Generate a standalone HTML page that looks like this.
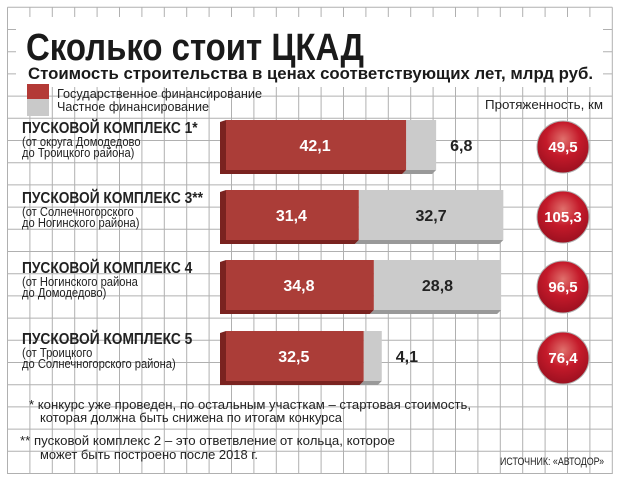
<!DOCTYPE html>
<html><head><meta charset="utf-8"><style>
body{margin:0;background:#fff;}
svg text{font-family:"Liberation Sans",sans-serif;}
</style></head><body>
<svg width="620" height="484" viewBox="0 0 620 484">
<defs>
<radialGradient id="ball" cx="50%" cy="35%" r="65%">
<stop offset="0" stop-color="#e0706c"/><stop offset="0.5" stop-color="#c41a2a"/><stop offset="1" stop-color="#9c1020"/>
</radialGradient>
</defs>
<g id="grid"></g>
<rect x="16" y="17" width="587" height="70" fill="#fff"/>
<text x="26" y="60" font-size="38" font-weight="bold" fill="#1a1a1a" textLength="338" lengthAdjust="spacingAndGlyphs">Сколько стоит ЦКАД</text>
<text x="28" y="79" font-size="17" font-weight="bold" fill="#1a1a1a" textLength="565" lengthAdjust="spacingAndGlyphs">Стоимость строительства в ценах соответствующих лет, млрд руб.</text>
<g>
<rect x="27" y="84" width="22" height="15" fill="#b33a36"/>
<rect x="27" y="99" width="22" height="17" fill="#c9c9c9"/>
<text x="57" y="98" font-size="13" fill="#222" textLength="205" lengthAdjust="spacingAndGlyphs">Государственное финансирование</text>
<text x="57" y="111" font-size="13" fill="#222" textLength="152" lengthAdjust="spacingAndGlyphs">Частное финансирование</text>
</g>
<text x="603" y="109" font-size="13" fill="#222" text-anchor="end" textLength="118" lengthAdjust="spacingAndGlyphs">Протяженность, км</text>
<g id="rows"></g>
<g font-size="13" fill="#222">
<text x="29" y="409" textLength="442" lengthAdjust="spacingAndGlyphs">* конкурс уже проведен, по остальным участкам – стартовая стоимость,</text>
<text x="40" y="422" textLength="302" lengthAdjust="spacingAndGlyphs">которая должна быть снижена по итогам конкурса</text>
<text x="20" y="445" textLength="375" lengthAdjust="spacingAndGlyphs">** пусковой комплекс 2 – это ответвление от кольца, которое</text>
<text x="40" y="459" textLength="218" lengthAdjust="spacingAndGlyphs">может быть построено после 2018 г.</text>
<text x="604" y="465" font-size="11" text-anchor="end" textLength="104" lengthAdjust="spacingAndGlyphs">ИСТОЧНИК: «АВТОДОР»</text>
</g>
</svg>
<script>
const categories=["ПУСКОВОЙ КОМПЛЕКС 1*","ПУСКОВОЙ КОМПЛЕКС 3**","ПУСКОВОЙ КОМПЛЕКС 4","ПУСКОВОЙ КОМПЛЕКС 5"];
const subLine1=["(от округа Домодедово","(от Солнечногорского","(от Ногинского района","(от Троицкого"];
const subLine2=["до Троицкого района)","до Ногинского района)","до Домодедово)","до Солнечногорского района)"];
const stateValues=[42.1,31.4,34.8,32.5];
const privateValues=[6.8,32.7,28.8,4.1];
const lengthValues=[49.5,105.3,96.5,76.4];
const NS="http://www.w3.org/2000/svg";
function mk(tag,attrs,parent){const e=document.createElementNS(NS,tag);for(const k in attrs)e.setAttribute(k,attrs[k]);parent.appendChild(e);return e;}
const grid=document.getElementById('grid');
for(let i=0;i<=27;i++){const x=7.5+i*22.4;const l=mk('line',{x1:x,y1:7.3,x2:x,y2:474,stroke:'#b0b0b0','stroke-width':1},grid);}
for(let j=0;j<=21;j++){const y=7.3+j*22.2;const l=mk('line',{x1:7.5,y1:y,x2:612.3,y2:y,stroke:'#b0b0b0','stroke-width':1},grid);}
const x0=220,k=4.42;
const xs=v=>x0+v*k;
const rowY=[120,190,260,331];
const fmt=v=>v.toFixed(1).replace('.',',');
const rows=document.getElementById('rows');
const sx=0.86;
categories.forEach((c,i)=>{
 const g=mk('g',{},rows);
 
 
 const y=rowY[i],h=50;
 const xr=xs(stateValues[i]),xg=xs(stateValues[i]+privateValues[i]);
 const sh=mk('polygon',{points:`${xr},${y+h} ${xg},${y+h} ${xg-4},${y+h+4} ${xr-4},${y+h+4}`,fill:'#999'},g);
 
 const gb=mk('rect',{x:xr,y:y,width:xg-xr,height:h,fill:'#cbcbcb'},g);
 
 const rs=mk('polygon',{points:`${x0},${y+2} ${x0+6},${y} ${x0+6},${y+h} ${xr},${y+h} ${xr-4},${y+h+4} ${x0},${y+h+4}`,fill:'#7a2320'},g);
 
 const rb=mk('rect',{x:x0+6,y:y,width:xr-x0-6,height:h,fill:'#ab3d38'},g);
 
 const t1=mk('text',{x:(x0+xr)/2+2,y:y+h/2+6,'font-size':16,'font-weight':'bold',fill:'#fff','text-anchor':'middle'},g);
 t1.textContent=fmt(stateValues[i]);
 const wide=(xg-xr)>60;
 const t2=mk('text',{x:wide?(xr+xg)/2:xg+14,y:y+h/2+6,'font-size':16,'font-weight':'bold',fill:'#222','text-anchor':wide?'middle':'start'},g);
 t2.textContent=fmt(privateValues[i]);
 const lg=mk('g',{transform:`scale(${sx},1)`},g);
 const ly=y+13;
 const a=mk('text',{x:22/sx,y:ly,'font-size':16,'font-weight':'bold',fill:'#222'},lg);a.textContent=c;
 
 const b=mk('text',{x:22/sx,y:ly+13,'font-size':13,fill:'#222'},lg);b.textContent=subLine1[i];
 
 const d=mk('text',{x:22/sx,y:ly+24,'font-size':13,fill:'#222'},lg);d.textContent=subLine2[i];
 
 const cy=y+27;
 const ci=mk('circle',{cx:563,cy:cy,r:26,fill:'url(#ball)',stroke:'#b0b0b0','stroke-width':1},g);
 
 const ct=mk('text',{x:563,y:cy+5,'font-size':15,'font-weight':'bold',fill:'#fff','text-anchor':'middle'},g);
 ct.textContent=fmt(lengthValues[i]);
});
</script>
</body></html>
